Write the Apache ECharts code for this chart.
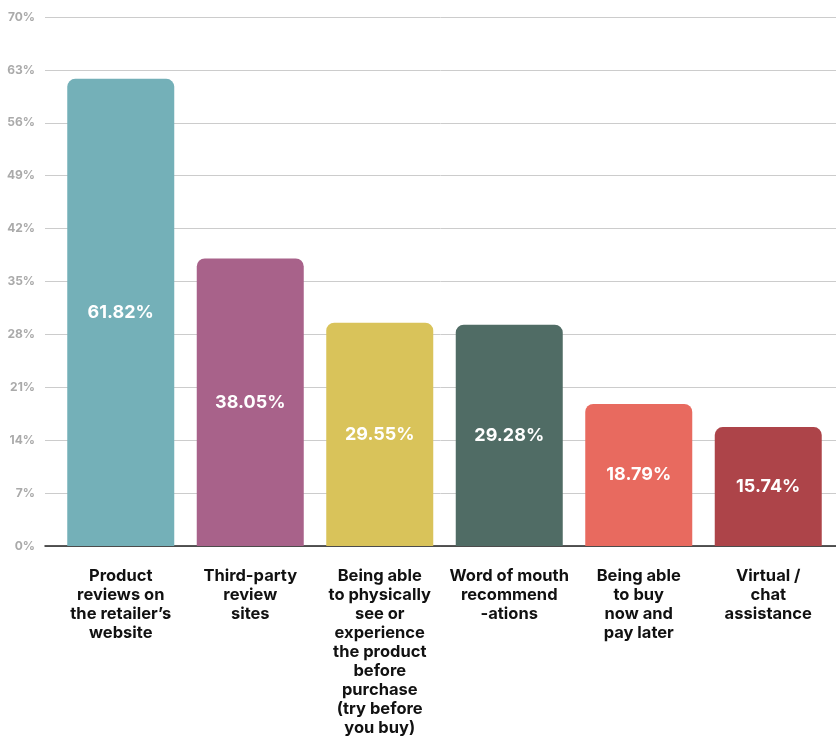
<!DOCTYPE html>
<html><head><meta charset="utf-8">
<script src="https://cdn.jsdelivr.net/npm/echarts@6/dist/echarts.min.js"></script>
<style>html,body{margin:0;padding:0;background:#fff}#c{width:836px;height:738px}</style>
</head><body><div id="c"></div>
<script>
const categories = [
  "Product\nreviews on\nthe retailer’s\nwebsite",
  "Third-party\nreview\nsites",
  "Being able\nto physically\nsee or\nexperience\nthe product\nbefore\npurchase\n(try before\nyou buy)",
  "Word of mouth\nrecommend\n-ations",
  "Being able\nto buy\nnow and\npay later",
  "Virtual /\nchat\nassistance"
];
const values = [61.82, 38.05, 29.55, 29.28, 18.79, 15.74];
const colors = ["#74b0b8", "#a8628a", "#d9c35a", "#506c65", "#e86a5f", "#ad4449"];
const yTicks = [0, 7, 14, 21, 28, 35, 42, 49, 56, 63, 70];

const chart = echarts.init(document.getElementById('c'));
chart.setOption({
  animation: false,
  textStyle: { fontFamily: 'Inter' },
  grid: [
    { left: 45, right: 0, top: 17, bottom: 192 },
    { left: 56, right: 3, top: 17, bottom: 192 }
  ],
  xAxis: [
    { gridIndex: 0, type: 'category', data: [''], axisLine: { lineStyle: { color: '#222', width: 1.5 } },
      axisTick: { show: false }, axisLabel: { show: false } },
    { gridIndex: 1, type: 'category', data: categories, axisLine: { show: false }, axisTick: { show: false },
      axisLabel: { interval: 0, margin: 21, color: '#111', fontWeight: 'bold', fontSize: 16.5, lineHeight: 19, fontFamily: 'Inter' } }
  ],
  yAxis: [
    { gridIndex: 0, type: 'value', min: yTicks[0], max: yTicks[yTicks.length - 1], interval: 7,
      axisLine: { show: false }, axisTick: { show: false },
      axisLabel: { formatter: v => v + '%', color: '#aaa', fontSize: 12, fontWeight: 'bold', margin: 10, fontFamily: 'Inter' },
      splitLine: { lineStyle: { color: '#ccc', width: 1 } } },
    { gridIndex: 1, type: 'value', min: 0, max: 70, interval: 7, show: false }
  ],
  series: [{
    type: 'bar', xAxisIndex: 1, yAxisIndex: 1,
    barWidth: 107,
    data: values.map((v, i) => ({ value: v, itemStyle: { color: colors[i], borderRadius: [8, 8, 0, 0] } })),
    label: { show: true, position: 'inside', color: '#fff', fontWeight: 'bold', fontSize: 18, fontFamily: 'Inter',
      formatter: p => p.value.toFixed(2) + '%' }
  }]
});
</script></body></html>
